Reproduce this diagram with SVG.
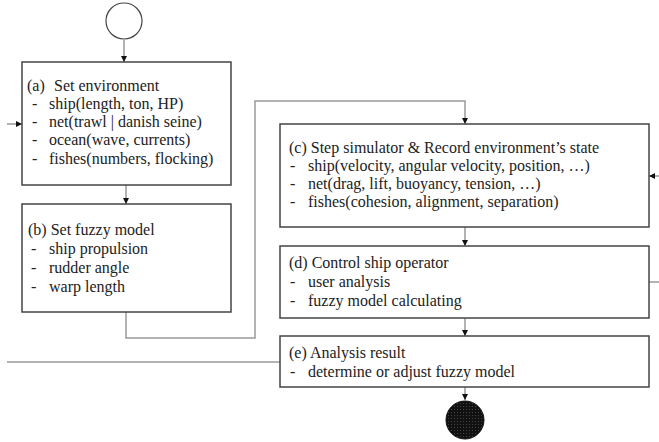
<svg xmlns="http://www.w3.org/2000/svg" width="659" height="442" viewBox="0 0 659 442">
<defs>
<marker id="ah" viewBox="0 0 10 10" refX="10" refY="5" markerWidth="6" markerHeight="6" markerUnits="userSpaceOnUse" orient="auto">
<path d="M0,0 L10,5 L0,10 z" fill="#111"/>
</marker>
<pattern id="dots" width="3" height="3" patternUnits="userSpaceOnUse">
<rect width="3" height="3" fill="#111"/>
<rect x="1" y="1" width="1" height="1" fill="#444"/>
</pattern>
</defs>
<style>
.box{fill:#fff;stroke:#444;stroke-width:1.5}
.ln{fill:none;stroke:#9a9a9a;stroke-width:1.5}
.ar{marker-end:url(#ah)}
text{font-family:"Liberation Serif","Times New Roman",serif;font-size:16px;fill:#222}
</style>
<rect width="659" height="442" fill="#fff"/>
<g id="connectors">
<line class="ln ar" x1="124" y1="40" x2="124" y2="62"/>
<line class="ln ar" x1="7" y1="124" x2="22" y2="124"/>
<line class="ln ar" x1="126" y1="185" x2="126" y2="204"/>
<polyline class="ln ar" points="126,312 126,338 255,338 255,101 465,101 465,124"/>
<line class="ln ar" x1="659" y1="176" x2="649" y2="176"/>
<line class="ln ar" x1="465" y1="227" x2="465" y2="246"/>
<line class="ln" x1="649" y1="282" x2="659" y2="282"/>
<line class="ln ar" x1="465" y1="318" x2="465" y2="336"/>
<line class="ln" x1="7" y1="362" x2="280" y2="362"/>
<line class="ln ar" x1="465" y1="387" x2="465" y2="400"/>
</g>
<g id="start">
<circle cx="124" cy="21" r="18" fill="#fff" stroke="#444" stroke-width="1.2"/>
</g>
<g id="node-a">
<rect class="box" x="22" y="62" width="209" height="123"/>
<text x="27" y="91">(a)<tspan x="54">Set environment</tspan></text>
<text x="32" y="109">-<tspan x="49">ship(length, ton, HP)</tspan></text>
<text x="32" y="127">-<tspan x="49">net(trawl | danish seine)</tspan></text>
<text x="32" y="145">-<tspan x="49">ocean(wave, currents)</tspan></text>
<text x="32" y="164">-<tspan x="49">fishes(numbers, flocking)</tspan></text>
</g>
<g id="node-b">
<rect class="box" x="22" y="204" width="209" height="108"/>
<text x="28" y="235">(b) Set fuzzy model</text>
<text x="31" y="254">-<tspan x="49">ship propulsion</tspan></text>
<text x="31" y="273">-<tspan x="49">rudder angle</tspan></text>
<text x="31" y="292">-<tspan x="49">warp length</tspan></text>
</g>
<g id="node-c">
<rect class="box" x="280" y="124" width="369" height="103"/>
<text x="289" y="153">(c) Step simulator &amp; Record environment’s state</text>
<text x="290" y="171">-<tspan x="308">ship(velocity, angular velocity, position, …)</tspan></text>
<text x="290" y="189">-<tspan x="308">net(drag, lift, buoyancy, tension, …)</tspan></text>
<text x="290" y="207">-<tspan x="308">fishes(cohesion, alignment, separation)</tspan></text>
</g>
<g id="node-d">
<rect class="box" x="280" y="246" width="369" height="72"/>
<text x="289" y="268">(d) Control ship operator</text>
<text x="290" y="287">-<tspan x="308">user analysis</tspan></text>
<text x="290" y="306">-<tspan x="308">fuzzy model calculating</tspan></text>
</g>
<g id="node-e">
<rect class="box" x="280" y="336" width="369" height="51"/>
<text x="289" y="358">(e) Analysis result</text>
<text x="290" y="377">-<tspan x="308">determine or adjust fuzzy model</tspan></text>
</g>
<g id="end">
<circle cx="465" cy="420" r="19" fill="url(#dots)" stroke="#111" stroke-width="1"/>
</g>
</svg>
